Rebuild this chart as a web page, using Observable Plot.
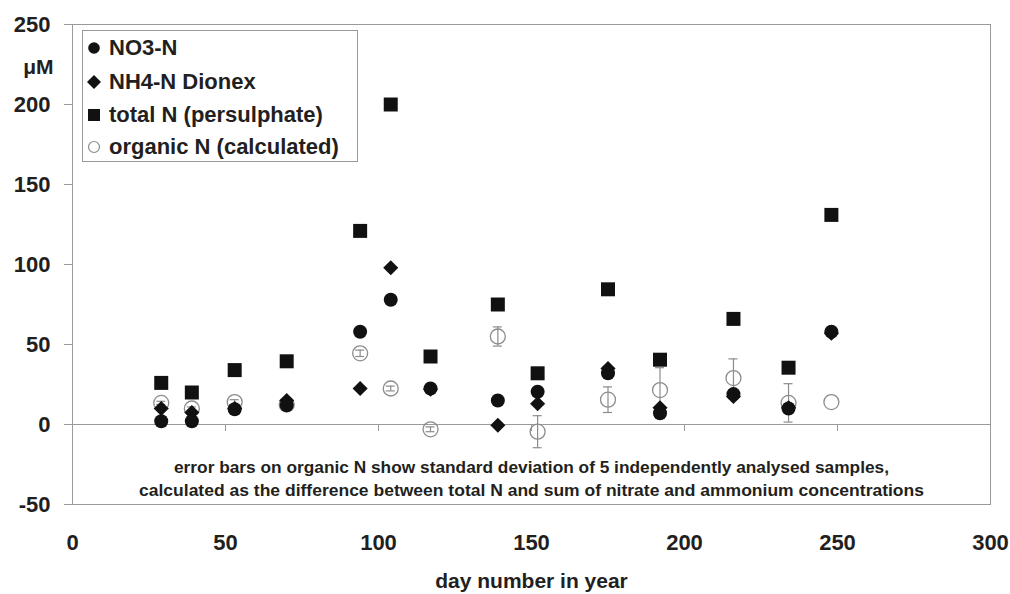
<!DOCTYPE html>
<html><head><meta charset="utf-8">
<script src="https://cdn.jsdelivr.net/npm/d3@7"></script>
<script src="https://cdn.jsdelivr.net/npm/@observablehq/plot@0.6"></script>
<style>
body{margin:0;background:#fff;}
#wrap{position:relative;width:1010px;height:594px;font-family:"Liberation Sans",Arial,sans-serif;}
#legend{position:absolute;left:82px;top:30px;width:276px;height:132px;border:1px solid #9a9a9a;background:#fff;box-sizing:border-box;}
.row{position:absolute;left:0;height:30px;display:flex;align-items:center;font-weight:bold;font-size:22px;color:#231f20;white-space:nowrap}
.row svg{margin-left:2px;margin-right:6px;flex:none}
</style></head><body><div id="wrap"><div id="legend"></div></div>
<script>
// ---- data ----
const days      = [29, 39, 53, 70, 94, 104, 117, 139, 152, 175, 192, 216, 234, 248];
const no3N      = [2, 2, 9.5, 12, 58, 78, 22.5, 15, 20.5, 32, 7, 19, 10, 58];
const nh4N      = [10, 7.5, 10, 15, 22.5, 98, 22, -0.5, 13, 35, 10.5, 17.5, 10.5, 57];
const totalN    = [26, 20, 34, 39.5, 121, 200, 42.5, 75, 32, 84.5, 40.5, 66, 35.5, 131];
const organicN  = [13.5, 10, 14, 12.5, 44.5, 22.5, -3, 55, -4.5, 15.5, 21.5, 29, 13.5, 14];
const organicSd = [1, 1, 1.5, 1, 2, 1.5, 1.5, 6, 10, 8, 14, 12, 12, null];
const xTicks = [0, 50, 100, 150, 200, 250, 300];
const yTicks = [-50, 0, 50, 100, 150, 200, 250];
const seriesNames = ["NO3-N", "NH4-N Dionex", "total N (persulphate)", "organic N (calculated)"];
const yUnit = "μM";
const xTitle = "day number in year";
const noteLines = [
  "error bars on organic N show standard deviation of 5 independently analysed samples,",
  "calculated as the difference between total N and sum of nitrate and ammonium concentrations"
];

const rows = days.map((d, i) => ({day: d, no3: no3N[i], nh4: nh4N[i], total: totalN[i], org: organicN[i], sd: organicSd[i]}));
const errRows = rows.filter(r => r.sd != null);
const gray = "#9a9a9a";
const ink = "#231f20";
const font = "Liberation Sans, Arial, sans-serif";

const plot = Plot.plot({
  width: 1010, height: 594,
  marginLeft: 72, marginRight: 20, marginTop: 24, marginBottom: 90,
  style: {fontFamily: font, background: "#fff", overflow: "visible"},
  x: {domain: [0, 300], axis: null},
  y: {domain: [-50, 250], axis: null},
  marks: [
    Plot.frame({stroke: gray}),
    Plot.ruleY([0], {stroke: gray}),
    Plot.ruleY(yTicks, {y: d => d, x1: 0, x2: 0, insetLeft: -8, stroke: gray}),
    Plot.ruleX(xTicks, {x: d => d, y1: 0, y2: 0, insetBottom: -7, stroke: gray}),
    Plot.axisY({ticks: yTicks, tickSize: 0, tickPadding: 22, fontSize: 22, fontWeight: "bold", fill: ink, label: null, tickFormat: d => String(d)}),
    Plot.axisX({ticks: xTicks, anchor: "bottom", tickSize: 0, tickPadding: 30, fontSize: 22, fontWeight: "bold", fill: ink, label: null, tickFormat: d => String(d)}),
    Plot.text([yUnit], {text: d => d, frameAnchor: "top-left", dx: -19, dy: 43, textAnchor: "end", lineAnchor: "middle", fontSize: 21, fontWeight: "bold", fill: ink}),
    Plot.text([xTitle], {text: d => d, frameAnchor: "bottom", dy: 77, lineAnchor: "middle", fontSize: 21, fontWeight: "bold", fill: ink}),
    Plot.text([noteLines.join("\n")], {text: d => d, frameAnchor: "bottom", dy: -27, lineAnchor: "middle", lineHeight: 1.4, fontSize: 16.5, fontWeight: "bold", fill: ink, fontFamily: "Liberation Sans Narrow, Arial Narrow, Liberation Sans, sans-serif", className: "note"}),
    // error bars on organic N
    Plot.ruleX(errRows, {x: "day", y1: d => d.org - d.sd, y2: d => d.org + d.sd, stroke: "#8c8c8c", strokeWidth: 1.2}),
    Plot.ruleY(errRows, {y: d => d.org + d.sd, x1: "day", x2: "day", insetLeft: -4.5, insetRight: -4.5, stroke: "#8c8c8c", strokeWidth: 1.2}),
    Plot.ruleY(errRows, {y: d => d.org - d.sd, x1: "day", x2: "day", insetLeft: -4.5, insetRight: -4.5, stroke: "#8c8c8c", strokeWidth: 1.2}),
    Plot.dot(rows, {x: "day", y: "org", symbol: "circle", r: 7.5, fill: "none", stroke: "#8c8c8c", strokeWidth: 1.3}),
    Plot.dot(rows, {x: "day", y: "nh4", symbol: "diamond2", r: 6.8, fill: "#111", stroke: "none"}),
    Plot.dot(rows, {x: "day", y: "no3", symbol: "circle", r: 7, fill: "#111", stroke: "none"}),
    Plot.dot(rows, {x: "day", y: "total", symbol: "square", r: 7.9, fill: "#111", stroke: "none"})
  ]
});
const wrap = document.getElementById("wrap");
wrap.insertBefore(plot, wrap.firstChild);

// condensed annotation lines
const widths = [715, 785];
plot.querySelectorAll(".note tspan").forEach((t, i) => {
  t.setAttribute("textLength", widths[i] ?? 780);
  t.setAttribute("lengthAdjust", "spacingAndGlyphs");
});

// legend
const symbols = [
  '<circle cx="9" cy="9" r="5.8" fill="#111"/>',
  '<path d="M9 2 L16 9 L9 16 L2 9 Z" fill="#111"/>',
  '<rect x="3" y="3" width="12" height="12" fill="#111"/>',
  '<circle cx="9" cy="9" r="5.5" fill="none" stroke="#8c8c8c" stroke-width="1.2"/>'
];
const rowTops = [2, 36, 69, 101];
const legend = document.getElementById("legend");
seriesNames.forEach((name, i) => {
  const r = document.createElement("div");
  r.className = "row";
  r.style.top = rowTops[i] + "px";
  r.innerHTML = `<svg width="18" height="18" viewBox="0 0 18 18">${symbols[i]}</svg><span>${name}</span>`;
  legend.appendChild(r);
});
</script>
</body></html>
